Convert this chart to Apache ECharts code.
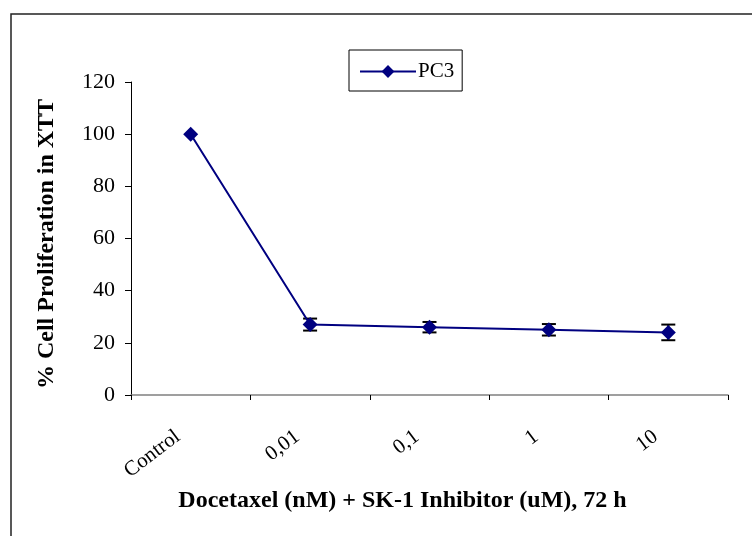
<!DOCTYPE html>
<html>
<head>
<meta charset="utf-8">
<script src="https://cdn.jsdelivr.net/npm/echarts@6/dist/echarts.min.js"></script>
<style>
html,body{margin:0;padding:0;background:#fff;}
#main{width:752px;height:536px;}
</style>
</head>
<body>
<div id="main"></div>
<script>
var categories = ['Control', '0,01', '0,1', '1', '10'];
var pc3Values = [100, 27, 26, 25, 24];
var pc3Errors = [0, 2.3, 2, 2.2, 3];
var yTicks = [0, 20, 40, 60, 80, 100, 120];
var seriesName = 'PC3';
var xTitle = 'Docetaxel (nM) + SK-1 Inhibitor (uM), 72 h';
var yTitle = '% Cell Proliferation in XTT';

var font = '"Liberation Serif", "Times New Roman", serif';
var chart = echarts.init(document.getElementById('main'));

var errData = categories.map(function (c, i) {
  return [i, pc3Values[i] - pc3Errors[i], pc3Values[i] + pc3Errors[i]];
});

chart.setOption({
  animation: false,
  backgroundColor: '#fff',
  grid: { left: 131, right: 24, top: 82, bottom: 141 },
  graphic: [{
    type: 'rect',
    shape: { x: 11, y: 14, width: 900, height: 700 },
    style: { fill: null, stroke: '#222', lineWidth: 1.5 },
    silent: true
  }],
  legend: {
    data: [seriesName],
    left: 349, top: 50,
    orient: 'vertical',
    borderColor: '#000', borderWidth: 1,
    padding: [11, 8, 9, 10],
    itemWidth: 56, itemHeight: 16,
    itemGap: 6,
    textStyle: { fontFamily: font, fontSize: 21, color: '#000', padding: [0, 0, 0, -3] }
  },
  xAxis: {
    type: 'category',
    data: categories,
    boundaryGap: true,
    axisLine: { lineStyle: { color: '#808080', width: 1.5 } },
    axisTick: { show: true, length: 5, lineStyle: { color: '#000' } },
    axisLabel: {
      interval: 0, rotate: 37, margin: 30,
      fontFamily: font, fontSize: 21, color: '#000',
      padding: [0, 16, 0, 0]
    },
    name: xTitle,
    nameLocation: 'middle',
    nameGap: 91,
    nameTextStyle: { fontFamily: font, fontSize: 24, fontWeight: 'bold', color: '#000', padding: [0, 54, 0, 0] }
  },
  yAxis: {
    type: 'value',
    min: yTicks[0], max: yTicks[yTicks.length - 1], interval: 20,
    splitLine: { show: false },
    axisLine: { show: true, lineStyle: { color: '#000', width: 1 } },
    axisTick: { show: true, length: 6, lineStyle: { color: '#000' } },
    axisLabel: { fontFamily: font, fontSize: 22, color: '#000', margin: 16 },
    name: yTitle,
    nameLocation: 'middle',
    nameGap: 72,
    nameTextStyle: { fontFamily: font, fontSize: 24, fontWeight: 'bold', color: '#000', padding: [0, 11, 0, 0] }
  },
  series: [{
    name: seriesName,
    type: 'line',
    data: pc3Values,
    symbol: 'diamond',
    symbolSize: 15,
    itemStyle: { color: '#000080' },
    lineStyle: { color: '#000080', width: 2 },
    z: 3
  }, {
    type: 'custom',
    name: 'err',
    data: errData,
    z: 2,
    renderItem: function (params, api) {
      var i = api.value(0);
      var lo = api.coord([i, api.value(1)]);
      var hi = api.coord([i, api.value(2)]);
      var hw = 7;
      if (Math.abs(lo[1] - hi[1]) < 0.5) return null;
      var st = { stroke: '#000', lineWidth: 2, fill: null };
      return {
        type: 'group',
        children: [
          { type: 'line', shape: { x1: lo[0], y1: lo[1], x2: hi[0], y2: hi[1] }, style: st },
          { type: 'line', shape: { x1: lo[0] - hw, y1: lo[1], x2: lo[0] + hw, y2: lo[1] }, style: st },
          { type: 'line', shape: { x1: hi[0] - hw, y1: hi[1], x2: hi[0] + hw, y2: hi[1] }, style: st }
        ]
      };
    }
  }]
});
</script>
</body>
</html>
